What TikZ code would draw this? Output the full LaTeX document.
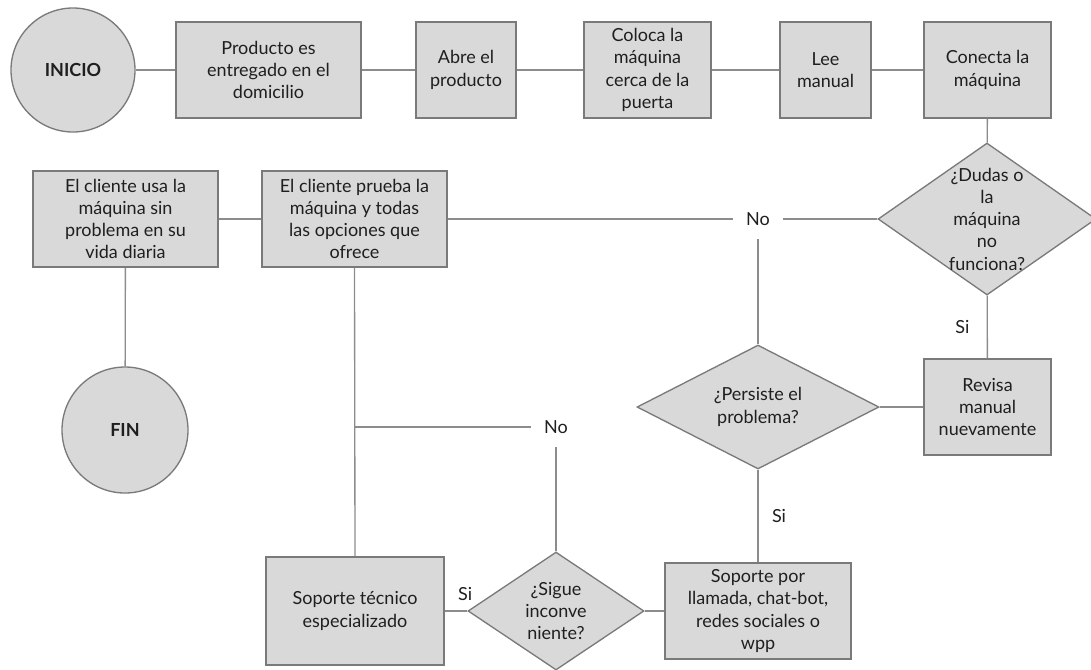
\documentclass[tikz,border=0pt]{standalone}
\usepackage{fontspec}
\setmainfont{Lato}
\usetikzlibrary{shapes.geometric}
\definecolor{caja}{HTML}{D9D9D9}
\definecolor{borde}{HTML}{7A7A7A}
\definecolor{linea}{HTML}{8C8C8C}
\definecolor{texto}{HTML}{1F1F1F}
\tikzset{
  {base/.style} ={draw=borde, fill=caja, line width=1pt, text=texto,
                  align=center, font=\fontsize{13.5}{16.7}\selectfont},
  {terminal/.style} ={base, circle, inner sep=0, minimum size=#1,
                  font=\fontsize{13.5}{16.7}\selectfont\bfseries},
  {paso/.style} ={base, rectangle, inner sep=0, minimum height=72pt,
                  minimum width=#1},
  {pregunta/.style 2 args} ={base, diamond, inner sep=-10pt,
                  minimum width=#1, minimum height=#2},
  {conector/.style} ={color=linea, line width=1pt},
  {etiqueta/.style} ={text=texto, inner sep=10pt,
                  font=\fontsize{13.5}{16.7}\selectfont},
}

\begin{document}
\begin{tikzpicture}[x=0.75pt,y=-0.75pt]
\useasboundingbox (0,0) rectangle (1091,669);
% fila superior
\node[terminal=93pt] (inicio) at (73,70) {INICIO};
\node[paso=138.75pt] (producto) at (268.5,70) {Producto es\\entregado en el\\domicilio};
\node[paso=75pt] (abre) at (466,70) {Abre el\\producto};
\node[paso=95.25pt] (coloca) at (647.5,70) {Coloca la\\máquina\\cerca de la\\puerta};
\node[paso=68.25pt] (lee) at (825.5,70) {Lee\\manual};
\node[paso=95.25pt] (conecta) at (987.5,70) {Conecta la\\máquina};
% decisiones
\node[pregunta={163.5pt}{114pt}] (dudas) at (987,219) {¿Dudas o\\la\\máquina\\no\\funciona?};
\node[paso=95.25pt] (revisa) at (987.5,407) {Revisa\\manual\\nuevamente};
\node[pregunta={181.5pt}{93pt}] (persiste) at (758,407) {¿Persiste el\\problema?};
\node[paso=139.5pt] (llamada) at (758,611) {Soporte por\\llamada, chat-bot,\\redes sociales o\\wpp};
\node[pregunta={132pt}{88.5pt}] (sigue) at (556,611) {¿Sigue\\inconve\\niente?};
\node[paso=133.5pt, minimum height=81pt] (tecnico) at (355,611) {Soporte técnico\\especializado};
% salida
\node[paso=138.75pt] (prueba) at (354.5,219) {El cliente prueba la\\máquina y todas\\las opciones que\\ofrece};
\node[paso=138.75pt] (usa) at (125.5,219) {El cliente usa la\\máquina sin\\problema en su\\vida diaria};
\node[terminal=94.5pt] (fin) at (125,430) {FIN};
% etiquetas sobre las lineas
\node[etiqueta] (noA) at (758,219) {No};
\node[etiqueta] (noB) at (556,427) {No};
\coordinate (cruce) at (prueba.south |- noB);

\path[conector] (inicio) edge (producto)
                (producto) edge (abre)
                (abre) edge (coloca)
                (coloca) edge (lee)
                (lee) edge (conecta)
                (conecta) edge (dudas)
                (dudas) edge node[etiqueta, left=3pt] {Si} (revisa)
                (revisa) edge (persiste)
                (persiste) edge node[etiqueta, right] {Si} (llamada)
                (llamada) edge (sigue)
                (sigue) edge node[etiqueta, pos=0.1, above=5pt, inner sep=2pt] {Si} (tecnico)
                (prueba.south) edge (tecnico.north)
                (usa) edge (prueba)
                (usa) edge (fin);
\path[conector] (dudas.west) edge (noA.east)
                (noA.west) edge (prueba.east)
                (noA.south) edge (persiste.north)
                (sigue.north) edge (noB.south)
                (noB.west) edge (cruce);
\end{tikzpicture}
\end{document}
